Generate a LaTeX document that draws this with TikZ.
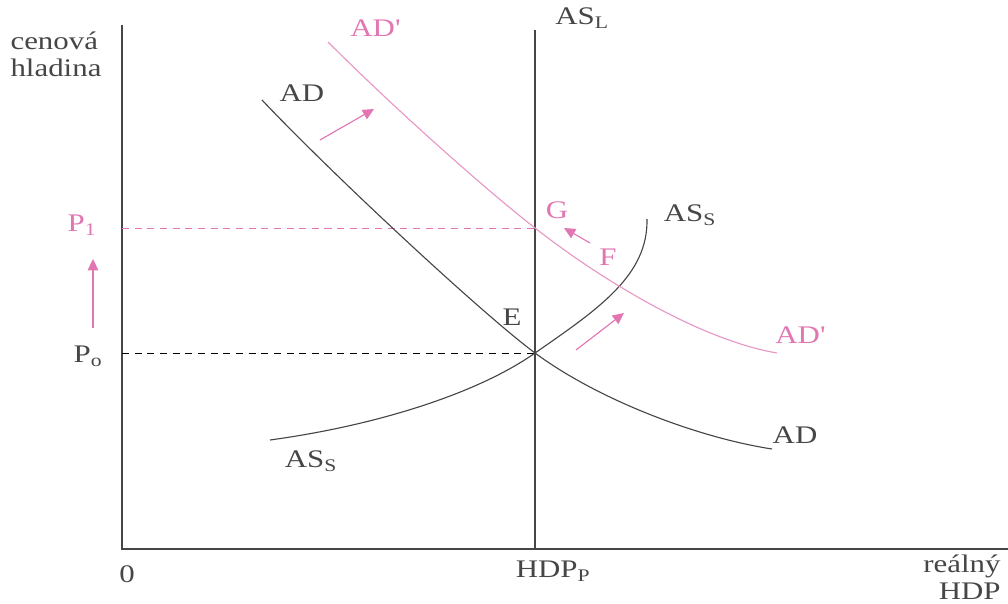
\documentclass[tikz,border=0pt]{standalone}
\usepackage{fontspec}
\setmainfont{Liberation Serif}[FakeStretch=1.22]
\usepackage{xcolor}
\usetikzlibrary{arrows.meta, positioning}
\definecolor{shiftpink}{RGB}{226,118,178}
\definecolor{curvepink}{RGB}{232,150,196}
\definecolor{axisgray}{RGB}{70,70,70}

\begin{document}
\begin{tikzpicture}[
  x=0.025cm, y=-0.025cm,
  lbl/.style={inner sep=0pt, font=\fontsize{18}{19}\selectfont, text=axisgray},
  pinklbl/.style={lbl, text=shiftpink},
  axis/.style={draw=axisgray, line width=0.8pt},
  curve/.style={draw=axisgray, line width=0.8pt},
  newcurve/.style={draw=curvepink, line width=0.8pt},
  guide/.style={line width=0.6pt, dash pattern=on 5pt off 4pt},
  arrow/.style={-{Triangle[length=8pt, width=7.5pt]}, draw=shiftpink, fill=shiftpink, line width=0.8pt}
]
\useasboundingbox (0,0) rectangle (1008,604);

\coordinate (origin) at (122,549);
\coordinate (ytop) at (122,25);
\coordinate (xend) at (1008,549);
\coordinate (lrbot) at (535,549);
\coordinate (lrtop) at (535,30);
\coordinate (E) at (535,353);
\coordinate (G) at (535,228);
\coordinate (p0) at (122,353);
\coordinate (p1) at (122,228);

\draw[axis] (ytop) -- (origin) -- (xend);
\draw[axis] (lrbot) -- (lrtop);

\draw[guide, draw=black] (p0) -- (E);
\draw[guide, draw=shiftpink] (p1) -- (G);

\draw[curve] (262,100) .. controls (330,172) and (480,312) .. (E)
  .. controls (600,401) and (700,438) .. (772,449);
\draw[curve] (270,440) .. controls (380,425) and (480,392) .. (E)
  .. controls (600,308) and (648,275) .. (647,219);
\draw[newcurve] (328,42) .. controls (390,104) and (480,185) .. (G)
  .. controls (600,279) and (700,340) .. (777,353);

\node[lbl, align=left] (ylab) at (56,54) {cenová\\hladina};
\node[lbl, align=right] (xlab) at (962,577) {reálný\\HDP};
\node[lbl] (zero) at (127,574) {0};
\node[lbl] (hdpp) at (553,571) {HDP\textsubscript{P}};
\node[lbl] (asl) at (582,18) {AS\textsubscript{L}};
\node[lbl] (adtop) at (302,93) {AD};
\node[lbl] (adbot) at (795,435) {AD};
\node[lbl] (astop) at (690,215) {AS\textsubscript{S}};
\node[lbl] (asbot) at (311,461) {AS\textsubscript{S}};
\node[pinklbl] (adntop) at (375,28) {AD\textquotesingle};
\node[pinklbl] (adnbot) at (800,335) {AD\textquotesingle};
\node[lbl] (elab) at (512,317) {E};
\node[pinklbl] (glab) at (557,210) {G};
\node[pinklbl] (flab) at (608,257) {F};
\node[pinklbl] (plab1) at (82,225) {P\textsubscript{1}};
\node[lbl] (plab0) at (88,356) {P\textsubscript{o}};

\coordinate (pup0) at (93,328);
\coordinate (pup1) at (93,259);
\coordinate (adsh0) at (320,140);
\coordinate (adsh1) at (374,109);
\coordinate (assh0) at (576,350);
\coordinate (assh1) at (624,313);
\coordinate (fg0) at (590,243);
\coordinate (fg1) at (564,228);

\draw[arrow] (pup0) -- (pup1);
\draw[arrow] (adsh0) -- (adsh1);
\draw[arrow] (assh0) -- (assh1);
\draw[arrow] (fg0) -- (fg1);
\end{tikzpicture}
\end{document}
